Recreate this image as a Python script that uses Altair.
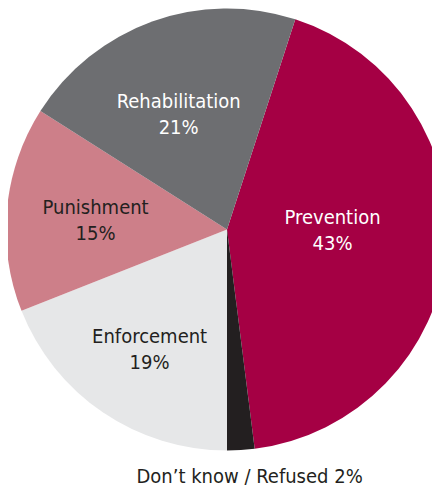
import math
import altair as alt
import pandas as pd

categories = ["Prevention", "Don’t know / Refused", "Enforcement", "Punishment", "Rehabilitation"]
values = [43, 2, 19, 15, 21]
colors = ["#A50044", "#231F20", "#E6E7E8", "#CD7F89", "#6D6E71"]
label_colors = ["#FFFFFF", "#231F20", "#231F20", "#231F20", "#FFFFFF"]

df = pd.DataFrame({
    "category": categories,
    "value": values,
    "order": list(range(len(categories))),
})

start = math.radians(18)
theta_scale = alt.Scale(domain=[0, 100], range=[start, start + 2 * math.pi])
CX, CY = 219, 221.5
FONT = "Liberation Sans Narrow, DejaVu Sans Condensed, Roboto"

base = alt.Chart(df).transform_window(
    cum="sum(value)", sort=[alt.SortField("order")]
).transform_calculate(
    start="datum.cum - datum.value",
    mid="datum.cum - datum.value / 2",
    label="datum.category + '\\n' + datum.value + '%'",
    label1="datum.category + ' ' + datum.value + '%'",
)

arcs = base.mark_arc(radius=221).encode(
    theta=alt.Theta("start:Q", scale=theta_scale),
    theta2="cum:Q",
    color=alt.Color("category:N", scale=alt.Scale(domain=categories, range=colors), legend=None),
    x=alt.value(CX),
    y=alt.value(CY),
)

def label_layer(cat, r, color, dx=0, dy=0, field="label"):
    return base.transform_filter(alt.datum.category == cat).mark_text(
        radius=r, font=FONT, fontSize=20, lineHeight=26, lineBreak="\n",
        color=color, align="center", baseline="middle", dx=dx, dy=dy,
    ).encode(
        theta=alt.Theta("mid:Q", scale=theta_scale),
        text=alt.Text(f"{field}:N"),
        x=alt.value(CX),
        y=alt.value(CY),
    )

layers = [
    arcs,
    label_layer("Prevention", 105, label_colors[0], dx=1, dy=-21),
    label_layer("Enforcement", 143, label_colors[2], dx=3, dy=-11),
    label_layer("Punishment", 132, label_colors[3], dy=-9),
    label_layer("Rehabilitation", 125, label_colors[4], dx=-6, dy=-10),
    label_layer("Don’t know / Refused", 248, label_colors[1], dx=7, dy=0, field="label1"),
]

chart = alt.layer(*layers).properties(
    width=424, height=479, padding=0, autosize=alt.AutoSizeParams(type="none")
).configure_view(stroke=None)

chart.save("out.html", embed_options={"renderer": "svg", "actions": False})
